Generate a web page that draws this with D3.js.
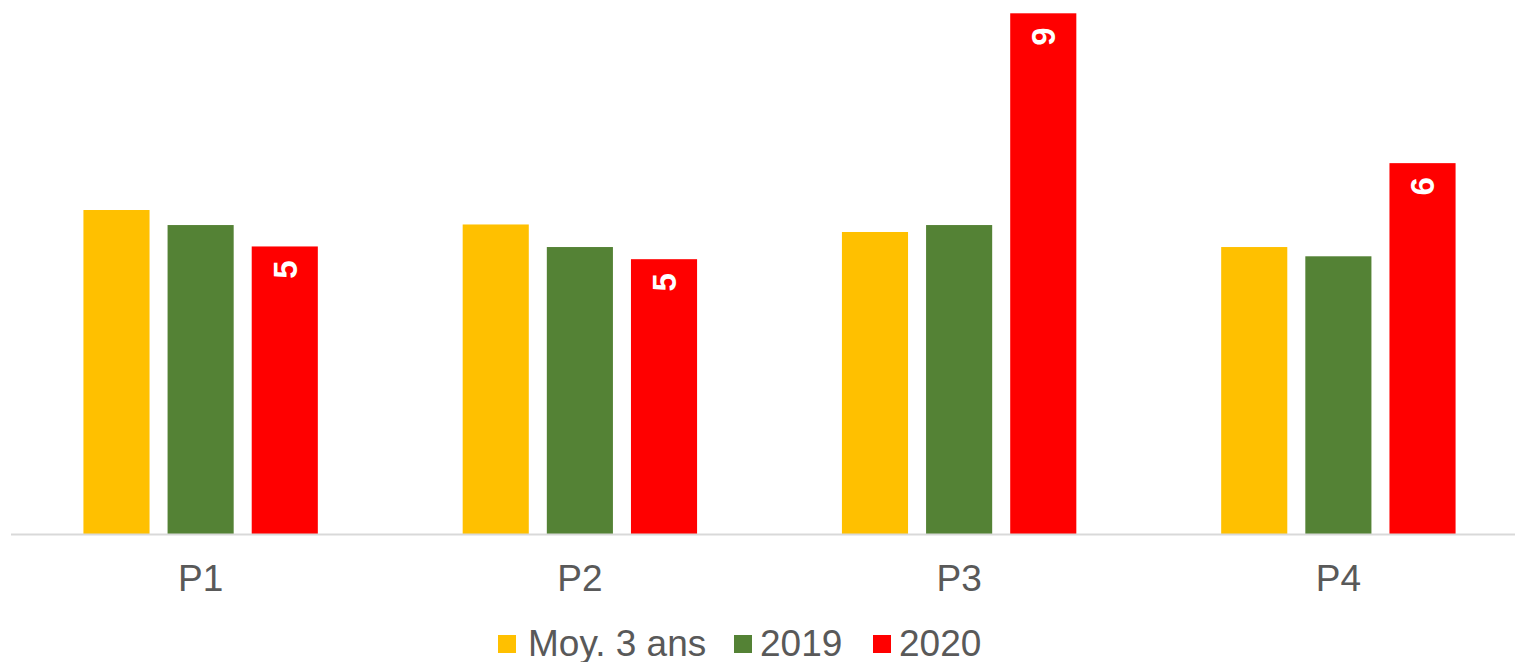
<!DOCTYPE html>
<html>
<head>
<meta charset="utf-8">
<script src="https://cdn.jsdelivr.net/npm/d3@7"></script>
<style>
  html, body { margin: 0; padding: 0; background: #fff; }
  svg { display: block; }
</style>
</head>
<body>
<svg id="chart" width="1515" height="662"></svg>
<script>
const categories = ["P1", "P2", "P3", "P4"];
const seriesNames = ["Moy. 3 ans", "2019", "2020"];
const moy3ans = [5.60, 5.35, 5.22, 4.96];
const y2019   = [5.34, 4.96, 5.34, 4.80];
const y2020   = [4.97, 4.75, 9.00, 6.41];
const labels2020 = ["5", "5", "9", "6"];
const colors = ["#FFC000", "#548235", "#FF0000"];

const seriesValues = [moy3ans, y2019, y2020];
const FONT = "'Liberation Sans', Arial, sans-serif";

const svg = d3.select("#chart");

const x = d3.scaleBand().domain(categories).range([11, 1528]).paddingInner(0).paddingOuter(0);
const groupW = 234.4;
const xs = d3.scaleBand().domain(seriesNames).range([-groupW / 2, groupW / 2]).paddingInner(18 / 84).paddingOuter(0);
const y = d3.scaleLinear().domain([0, 9]).range([534, 13.3]);

// bars
const groups = svg.append("g").selectAll("g")
  .data(categories)
  .join("g")
  .attr("transform", d => `translate(${x(d) + x.bandwidth() / 2},0)`);

groups.selectAll("rect")
  .data((d, i) => seriesNames.map((s, j) => ({ s, j, v: seriesValues[j][i] })))
  .join("rect")
  .attr("x", d => xs(d.s))
  .attr("width", xs.bandwidth())
  .attr("y", d => y(d.v))
  .attr("height", d => y(0) - y(d.v))
  .attr("fill", d => colors[d.j]);

// data labels for 2020
groups.append("text")
  .attr("transform", (d, i) => `translate(${xs("2020") + xs.bandwidth() / 2},${y(y2020[i]) + 14}) rotate(-90)`)
  .attr("text-anchor", "end")
  .attr("dy", "0.36em")
  .attr("fill", "#fff")
  .attr("font-family", FONT)
  .attr("font-weight", "bold")
  .attr("font-size", 33)
  .text((d, i) => labels2020[i]);

// x axis
const xAxis = d3.axisBottom(x).tickSize(0).tickPadding(0);
const ax = svg.append("g").attr("transform", `translate(0,${y(0)})`).call(xAxis);
ax.select(".domain").attr("stroke", "#d9d9d9").attr("stroke-width", 2).attr("d", "M11,0.5H1515");
ax.selectAll(".tick text")
  .attr("font-family", FONT)
  .attr("font-size", 37)
  .attr("fill", "#595959")
  .attr("dy", null)
  .attr("y", 57);

// legend
const legendItems = [
  { name: seriesNames[0], color: colors[0], sx: 498, tx: 528 },
  { name: seriesNames[1], color: colors[1], sx: 734, tx: 760 },
  { name: seriesNames[2], color: colors[2], sx: 873, tx: 899 }
];
const lg = svg.append("g");
lg.selectAll("rect").data(legendItems).join("rect")
  .attr("x", d => d.sx).attr("y", 635).attr("width", 18).attr("height", 18)
  .attr("fill", d => d.color);
lg.selectAll("text").data(legendItems).join("text")
  .attr("x", d => d.tx).attr("y", 656)
  .attr("font-family", FONT).attr("font-size", 37).attr("fill", "#595959")
  .text(d => d.name);
</script>
</body>
</html>
